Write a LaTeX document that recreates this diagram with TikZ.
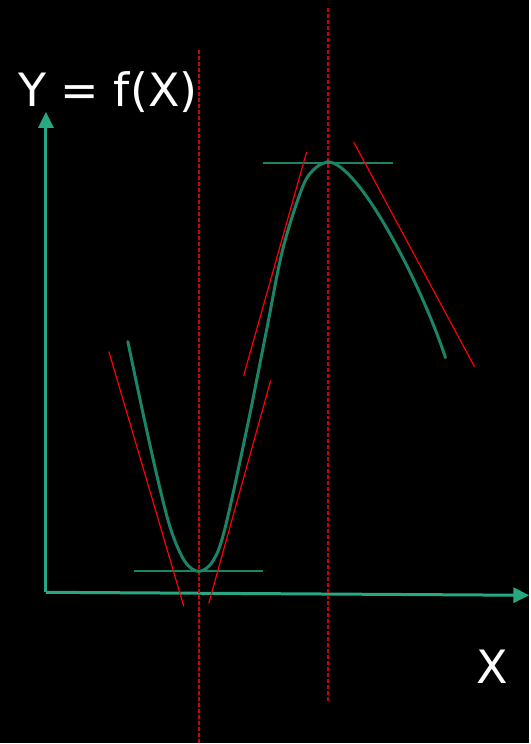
\documentclass[tikz,border=0pt]{standalone}
\usepackage{fontspec}
\setmainfont{DejaVu Sans}
\usetikzlibrary{arrows.meta,positioning}
\definecolor{axisteal}{RGB}{40,168,130}
\definecolor{curveteal}{RGB}{28,132,102}
\definecolor{tanred}{RGB}{255,0,0}
\definecolor{guidered}{RGB}{215,0,0}

\begin{document}
\begin{tikzpicture}[
  x=1pt, y=-1pt,
  axis/.style={-{Triangle[length=16pt,width=15pt]}, line width=3pt, axisteal},
  curve/.style={line width=3pt, curveteal, line cap=round},
  flat/.style={line width=2pt, curveteal},
  tangent/.style={line width=1.2pt, tanred},
  guide/.style={line width=1.8pt, guidered, dash pattern=on 4pt off 2pt},
  lbl/.style={text=white, font=\fontsize{46}{46}\selectfont, inner sep=0pt}
]
  \fill[black] (0,0) rectangle (530,744);

  % axes
  \coordinate (o)    at (46,593);
  \coordinate (ytip) at (46,112);
  \coordinate (xtip) at (530,596);
  \draw[axis] (o) -- (ytip);
  \draw[axis] (o) -- (xtip);
  \node[lbl, anchor=base west] (ylab) at (18,107) {Y = f(X)};
  \node[lbl, anchor=base] (xlab) at (493,684) {X};

  % vertical guides through the extrema
  \coordinate (gmin1) at (199.5,50); \coordinate (gmin2) at (199.5,744);
  \coordinate (gmax1) at (328.5,8);  \coordinate (gmax2) at (328.5,702);
  \draw[guide] (gmin1) -- (gmin2);
  \draw[guide] (gmax1) -- (gmax2);

  % the function
  \draw[curve] plot[smooth, tension=0.55] coordinates {
    (128,342) (143,413) (158,480) (171,530) (185,562) (199,572)
    (213,562) (225,530) (247,430) (267,330) (283,250) (303,187)
    (316,168) (328,162)}
    .. controls (358,162) and (420,280) .. (446,358);

  % horizontal tangents
  \coordinate (hmin1) at (134,572); \coordinate (hmin2) at (263,572);
  \coordinate (hmax1) at (263,163); \coordinate (hmax2) at (393,163);
  \draw[flat] (hmin1) -- (hmin2);
  \draw[flat] (hmax1) -- (hmax2);

  % sloped tangents
  \coordinate (ta1) at (109,352); \coordinate (ta2) at (184,607);
  \coordinate (tb1) at (209,604); \coordinate (tb2) at (271,381);
  \coordinate (tc1) at (244,376); \coordinate (tc2) at (307,152);
  \coordinate (td1) at (354,142); \coordinate (td2) at (475,367);
  \foreach \a/\b in {ta1/ta2,tb1/tb2,tc1/tc2,td1/td2} {
    \draw[tangent] (\a) -- (\b);
  }
\end{tikzpicture}
\end{document}
